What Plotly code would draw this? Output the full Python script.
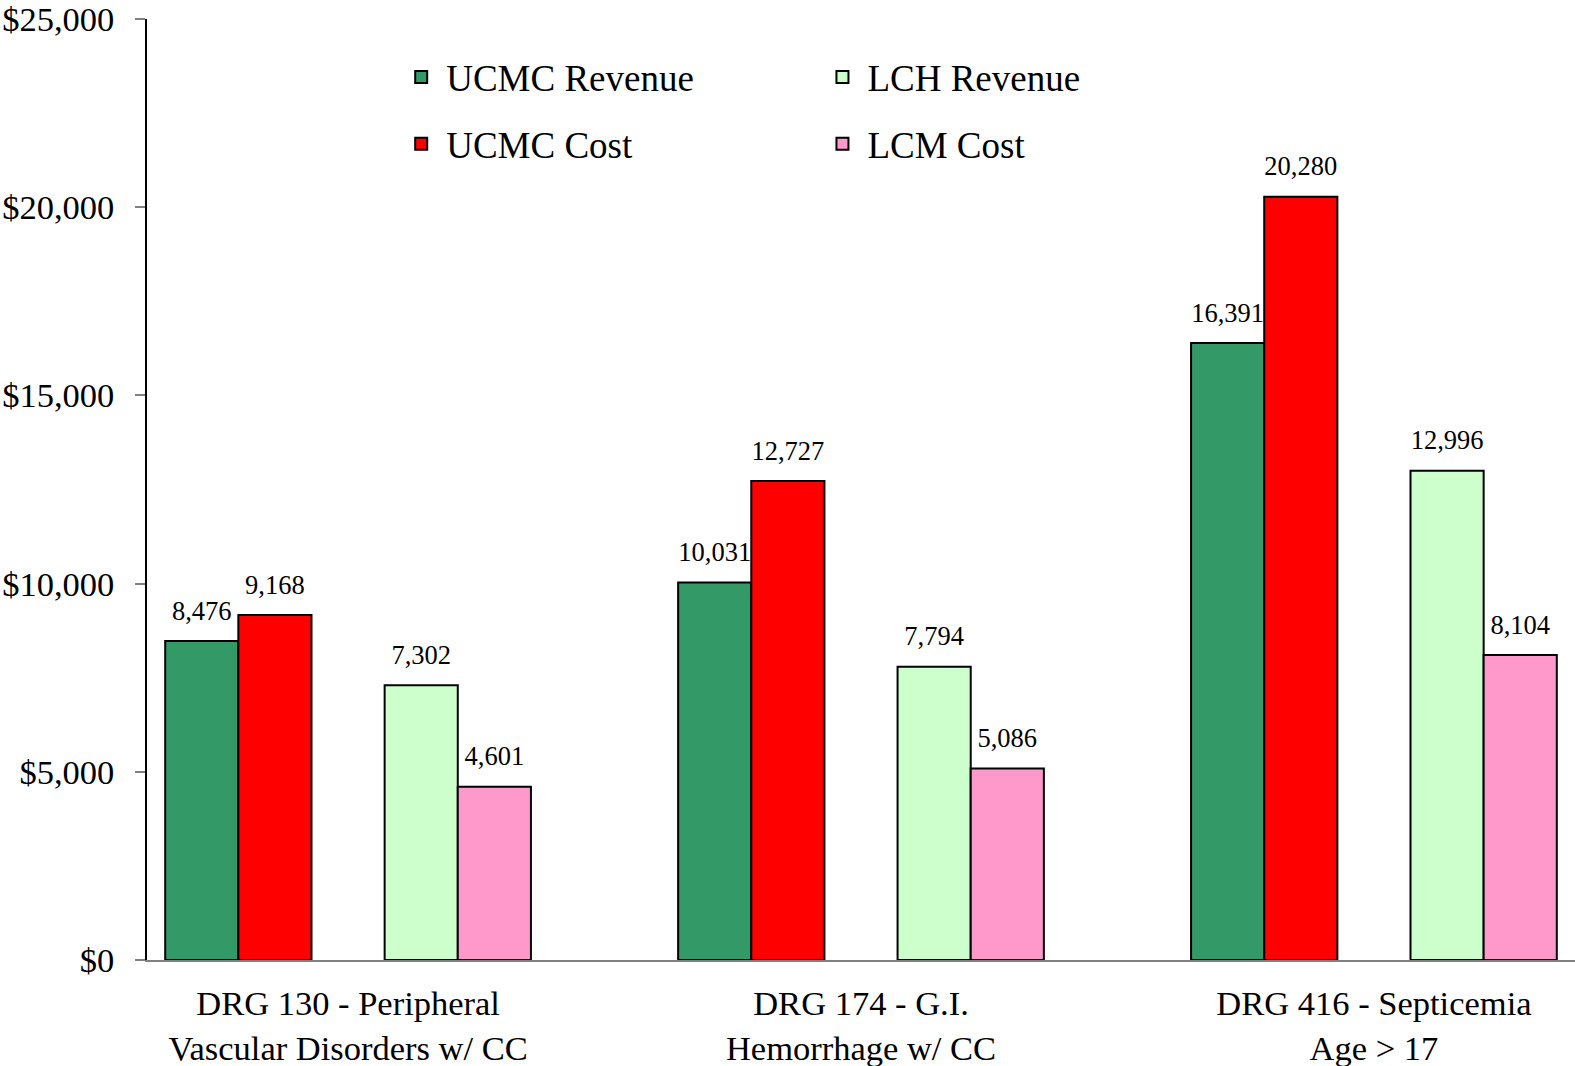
import plotly.graph_objects as go

categories = ["DRG 130 - Peripheral<br>Vascular Disorders w/ CC",
              "DRG 174 - G.I.<br>Hemorrhage w/ CC",
              "DRG 416 - Septicemia<br>Age > 17"]
ucmc_revenue = [8476, 10031, 16391]
ucmc_cost = [9168, 12727, 20280]
lch_revenue = [7302, 7794, 12996]
lcm_cost = [4601, 5086, 8104]

FONT = "Liberation Serif, Times New Roman, serif"
GAP = 0.287

series = [
    ("UCMC Revenue", ucmc_revenue, "#339966", "legend"),
    ("UCMC Cost", ucmc_cost, "#FF0000", "legend2"),
    None,
    ("LCH Revenue", lch_revenue, "#CCFFCC", "legend3"),
    ("LCM Cost", lcm_cost, "#FF99CC", "legend4"),
]

fig = go.Figure()
for s in series:
    if s is None:
        fig.add_trace(go.Bar(name="", x=categories, y=[None] * len(categories), showlegend=False))
        continue
    name, vals, color, legend = s
    fig.add_trace(go.Bar(
        name=name, x=categories, y=vals,
        marker=dict(color=color, line=dict(color="black", width=2)),
        legend=legend, hoverinfo="y",
    ))
# value labels, positioned with the same grouping as the bars
for s in series:
    if s is None:
        fig.add_trace(go.Scatter(x=categories, y=[None] * len(categories), mode="markers",
                                 showlegend=False, hoverinfo="skip"))
        continue
    name, vals, color, legend = s
    fig.add_trace(go.Scatter(
        x=categories, y=vals, mode="markers+text",
        marker=dict(size=22, opacity=0),
        text=[f"{v:,}" for v in vals], textposition="top center",
        textfont=dict(family=FONT, size=26.5, color="black"),
        cliponaxis=False, showlegend=False, hoverinfo="skip",
    ))

def leg(x, y):
    return dict(x=x, y=y, xanchor="left", yanchor="middle", xref="paper", yref="paper",
                font=dict(family=FONT, size=37, color="black"), bgcolor="rgba(0,0,0,0)",
                itemwidth=40)

fig.update_layout(
    width=1575, height=1066,
    margin=dict(l=147, r=0, t=19, b=106, autoexpand=False),
    paper_bgcolor="white", plot_bgcolor="white",
    barmode="group", bargap=GAP, bargroupgap=0,
    scattermode="group", scattergap=GAP,
    font=dict(family=FONT, color="black"),
    legend=leg(0.1745, 0.938),
    legend2=leg(0.1745, 0.867),
    legend3=leg(0.4695, 0.938),
    legend4=leg(0.4695, 0.867),
    xaxis=dict(range=[-0.392, 2.392], showline=True, linecolor="#808080", linewidth=2,
               ticks="", showgrid=False, tickfont=dict(family=FONT, size=34.5, color="black"),
               ticklabelstandoff=12, automargin=False),
    yaxis=dict(range=[0, 25000], dtick=5000, tickprefix="$", tickformat=",",
               showline=True, linecolor="black", linewidth=1.5,
               ticks="outside", ticklen=10, tickcolor="#808080", tickwidth=2,
               showgrid=False, zeroline=False, automargin=False,
               ticklabeloverflow="allow",
               tickfont=dict(family=FONT, size=34.5, color="black"), ticklabelstandoff=14),
)

fig.write_html("out.html")
